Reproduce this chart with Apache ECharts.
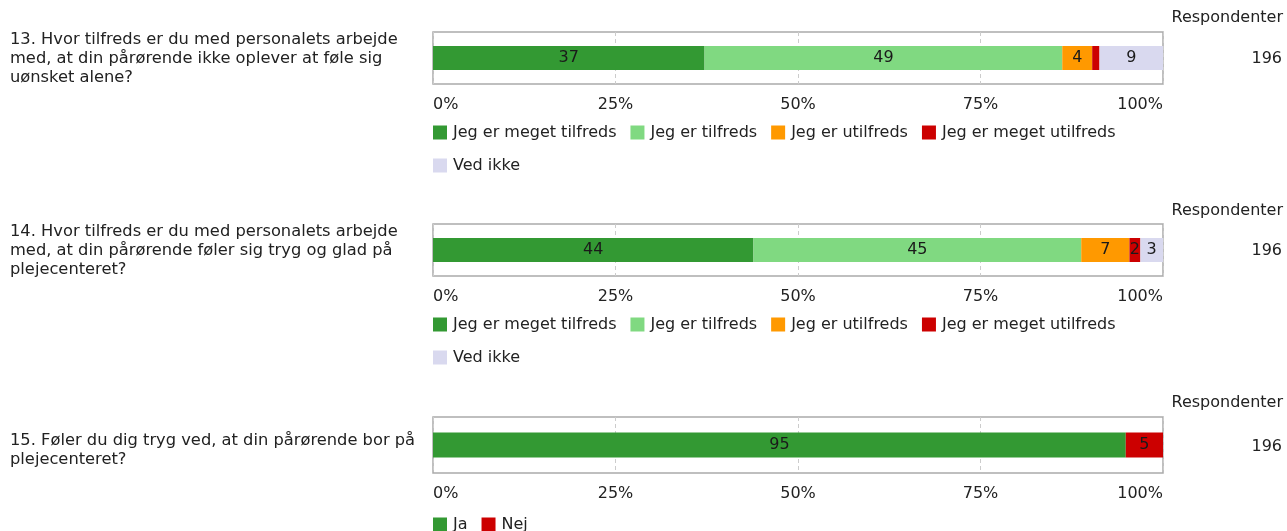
<!DOCTYPE html>
<html>
<head>
<meta charset="utf-8">
<script src="https://cdn.jsdelivr.net/npm/echarts@6/dist/echarts.min.js"></script>
<style>
html,body{margin:0;padding:0;background:#fff;}
#c{width:1287px;height:531px;}
</style>
</head>
<body>
<div id="c"></div>
<script>
// ---- data ----
const questions = [
  '13. Hvor tilfreds er du med personalets arbejde\nmed, at din pårørende ikke oplever at føle sig\nuønsket alene?',
  '14. Hvor tilfreds er du med personalets arbejde\nmed, at din pårørende føler sig tryg og glad på\nplejecenteret?',
  '15. Føler du dig tryg ved, at din pårørende bor på\nplejecenteret?'
];
const satisfactionCategories = ['Jeg er meget tilfreds', 'Jeg er tilfreds', 'Jeg er utilfreds', 'Jeg er meget utilfreds', 'Ved ikke'];
const yesNoCategories = ['Ja', 'Nej'];
const q13Values = [37.2, 49.0, 4.1, 1.0, 8.7];
const q14Values = [43.9, 44.9, 6.6, 1.5, 3.1];
const q15Values = [94.9, 5.1];
const respondents = [196, 196, 196];
const respondentsHeader = 'Respondenter';
const tickLabels = ['0%', '25%', '50%', '75%', '100%'];

// ---- styles ----
const FONT = '"DejaVu Sans", Verdana, sans-serif';
const satColors = ['#339933', '#80d981', '#ff9900', '#cc0000', '#d9d9ef'];
const ynColors = ['#339933', '#cc0000'];
const grids = [
  {left: 433, width: 730, top: 32, height: 52},
  {left: 433, width: 730, top: 224, height: 52},
  {left: 433, width: 730, top: 417, height: 56}
];
const barWidths = [24, 24, 25];

const chart = echarts.init(document.getElementById('c'), null, {renderer: 'canvas'});

function makeSeries(names, values, colors, idx) {
  return names.map((n, i) => ({
    name: n,
    type: 'bar',
    stack: 's' + idx,
    xAxisIndex: idx,
    yAxisIndex: idx,
    barWidth: barWidths[idx],
    data: [values[i]],
    itemStyle: {color: colors[i]},
    emphasis: {disabled: true},
    label: {
      show: true,
      position: 'inside',
      color: '#1a1a1a',
      fontFamily: FONT,
      fontSize: 16,
      formatter: p => (p.value < 1.2 ? '' : String(Math.round(p.value)))
    }
  }));
}

const series = [
  ...makeSeries(satisfactionCategories, q13Values, satColors, 0),
  ...makeSeries(satisfactionCategories, q14Values, satColors, 1),
  ...makeSeries(yesNoCategories, q15Values, ynColors, 2)
];

const xAxes = grids.map((g, i) => ({
  type: 'value',
  gridIndex: i,
  min: 0,
  max: 100,
  interval: 25,
  axisLine: {show: false},
  axisTick: {show: false},
  splitLine: {show: true, lineStyle: {color: '#cccccc', type: [4, 3], width: 1}},
  axisLabel: {
    color: '#222',
    fontFamily: FONT,
    fontSize: 16,
    margin: 13,
    alignMinLabel: 'left',
    alignMaxLabel: 'right',
    formatter: v => tickLabels[Math.round(v / 25)]
  }
}));

const yAxes = grids.map((g, i) => ({
  type: 'category',
  gridIndex: i,
  data: ['q' + (i + 13)],
  axisLine: {show: false},
  axisTick: {show: false},
  axisLabel: {show: false}
}));

const legendBase = {
  left: 433,
  width: 730,
  itemWidth: 14,
  itemHeight: 14,
  itemGap: 14,
  icon: 'rect',
  selectedMode: false,
  textStyle: {fontFamily: FONT, fontSize: 16, color: '#222', lineHeight: 19, padding: [0, 0, 0, 1]},
  padding: 0
};

const legendTops = [123, 315, 515];
const legends = [
  Object.assign({}, legendBase, {top: legendTops[0], data: satisfactionCategories}),
  Object.assign({}, legendBase, {top: legendTops[1], data: satisfactionCategories}),
  Object.assign({}, legendBase, {top: legendTops[2], data: yesNoCategories})
];

const qTops = [30, 222, 431];
const headTops = [10, 203, 395];
const valTops = [51, 243, 439];
const graphics = [];
questions.forEach((q, i) => {
  graphics.push({
    type: 'text', left: 10, top: qTops[i], silent: true,
    style: {text: q, font: '16.3px ' + FONT, lineHeight: 19, fill: '#222'}
  });
  graphics.push({
    type: 'text', right: 4, top: headTops[i], silent: true,
    style: {text: respondentsHeader, font: '16px ' + FONT, fill: '#222'}
  });
  graphics.push({
    type: 'text', right: 5, top: valTops[i], silent: true,
    style: {text: String(respondents[i]), font: '16px ' + FONT, fill: '#222'}
  });
});

chart.setOption({
  animation: false,
  backgroundColor: '#ffffff',
  grid: grids.map(g => Object.assign({show: true, borderColor: '#aaaaaa', borderWidth: 1.5, containLabel: false}, g)),
  xAxis: xAxes,
  yAxis: yAxes,
  legend: legends,
  series: series,
  graphic: graphics
});
</script>
</body>
</html>
